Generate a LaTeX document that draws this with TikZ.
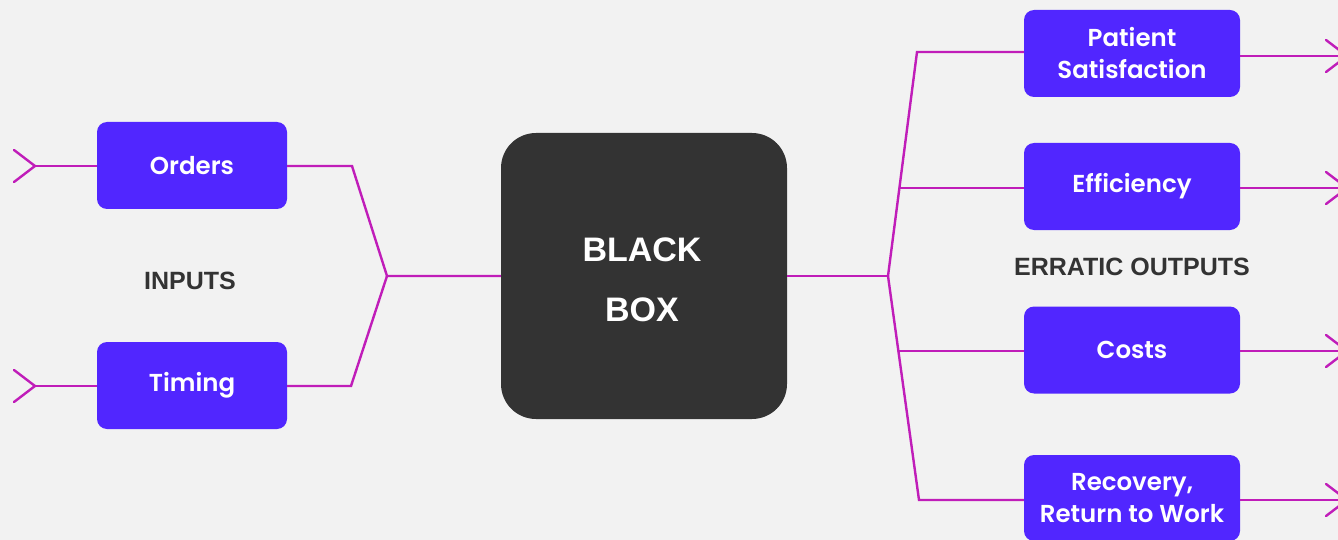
\documentclass[tikz,border=0pt]{standalone}
\usepackage{fontspec}
\usetikzlibrary{calc}
\setmainfont{Poppins}[BoldFont={Poppins SemiBold}]
\newfontfamily\arialf{Liberation Sans}
\definecolor{bgc}{HTML}{F2F2F2}
\definecolor{boxc}{HTML}{5126FF}
\definecolor{linec}{HTML}{C01DB9}
\definecolor{darkc}{HTML}{333333}
\tikzset{
  item/.style={rectangle, rounded corners=10pt, minimum width=190pt, minimum height=87pt, fill=boxc, text=white, align=center, inner sep=0pt, font=\fontsize{24.5}{32}\selectfont\bfseries},
  outitem/.style={item, minimum width=216pt},
  wire/.style={draw=linec, line width=2.4pt, line join=miter},
  chev/.style={draw=linec, line width=2.4pt, line cap=round},
  lab/.style={text=darkc, font=\arialf\fontsize{25}{28}\selectfont\bfseries}
}
\begin{document}
\begin{tikzpicture}[x=1pt,y=-1pt]
\fill[bgc] (0,0) rectangle (1338,540);
\useasboundingbox (0,0) rectangle (1338,540);
\begin{scope}
\clip (0,0) rectangle (1338,540);
% nodes
\node[item] (ord) at (192,165.5) {Orders};
\node[item] (tim) at (192,385.5) {Timing};
\node[rectangle, rounded corners=35pt, minimum width=286pt, minimum height=286pt, fill=darkc, text=white, align=center, inner sep=0pt, font=\arialf\fontsize{34}{60}\selectfont\bfseries] (bb) at (644,276) {};
\node[text=white, align=center, inner sep=0pt, font=\arialf\fontsize{34}{60}\selectfont\bfseries] (bbt) at (642,279.5) {BLACK\\BOX};
\node[outitem] (pat) at (1132,53.5) {Patient\\Satisfaction};
\node[outitem] (eff) at (1132,186.5) {Efficiency};
\node[outitem] (cos) at (1132,350) {Costs};
\node[outitem, minimum height=86pt] (rec) at (1132,498) {Recovery,\\Return to Work};
\node[lab] (inp) at (190,281) {INPUTS};
\node[lab] (outl) at (1132,267) {ERRATIC OUTPUTS};
% coordinates
\coordinate (ia) at (35,166);
\coordinate (ib) at (35,386);
\coordinate (oc) at (352,166);
\coordinate (tc) at (351,386);
\coordinate (jl) at (387,276);
\coordinate (jr) at (888,276);
\coordinate (pc) at (917,52);
\coordinate (ec) at (899.4,188);
\coordinate (cc) at (898,351);
\coordinate (rc) at (919,500);
\coordinate (pa) at (1347,56);
\coordinate (ea) at (1347,188);
\coordinate (ca) at (1347,351);
\coordinate (ra) at (1347,500);
% input arrows
\draw[chev] ($(ia)+(-21,-16)$) -- (ia) -- ($(ia)+(-21,16)$);
\draw[chev] ($(ib)+(-21,-16)$) -- (ib) -- ($(ib)+(-21,16)$);
\draw[wire] (ia) -- (ord.west |- ia);
\draw[wire] (ib) -- (tim.west |- ib);
% to black box
\draw[wire] (ord.east |- oc) -- (oc) -- (jl) -- (bb.west |- jl);
\draw[wire] (tim.east |- tc) -- (tc) -- (jl);
% from black box
\draw[wire] (bb.east |- jr) -- (jr);
\draw[wire] (pat.west |- pc) -- (pc) -- (jr) -- (rc) -- (rec.west |- rc);
\draw[wire] (ec) -- (eff.west |- ec);
\draw[wire] (cc) -- (cos.west |- cc);
% outputs
\draw[wire] (pat.east |- pa) -- (pa);
\draw[wire] (eff.east |- ea) -- (ea);
\draw[wire] (cos.east |- ca) -- (ca);
\draw[wire] (rec.east |- ra) -- (ra);
\foreach \p in {pa,ea,ca,ra}{
  \draw[chev] ($(\p)+(-21,-16)$) -- (\p) -- ($(\p)+(-21,16)$);
}
\end{scope}
\end{tikzpicture}
\end{document}
